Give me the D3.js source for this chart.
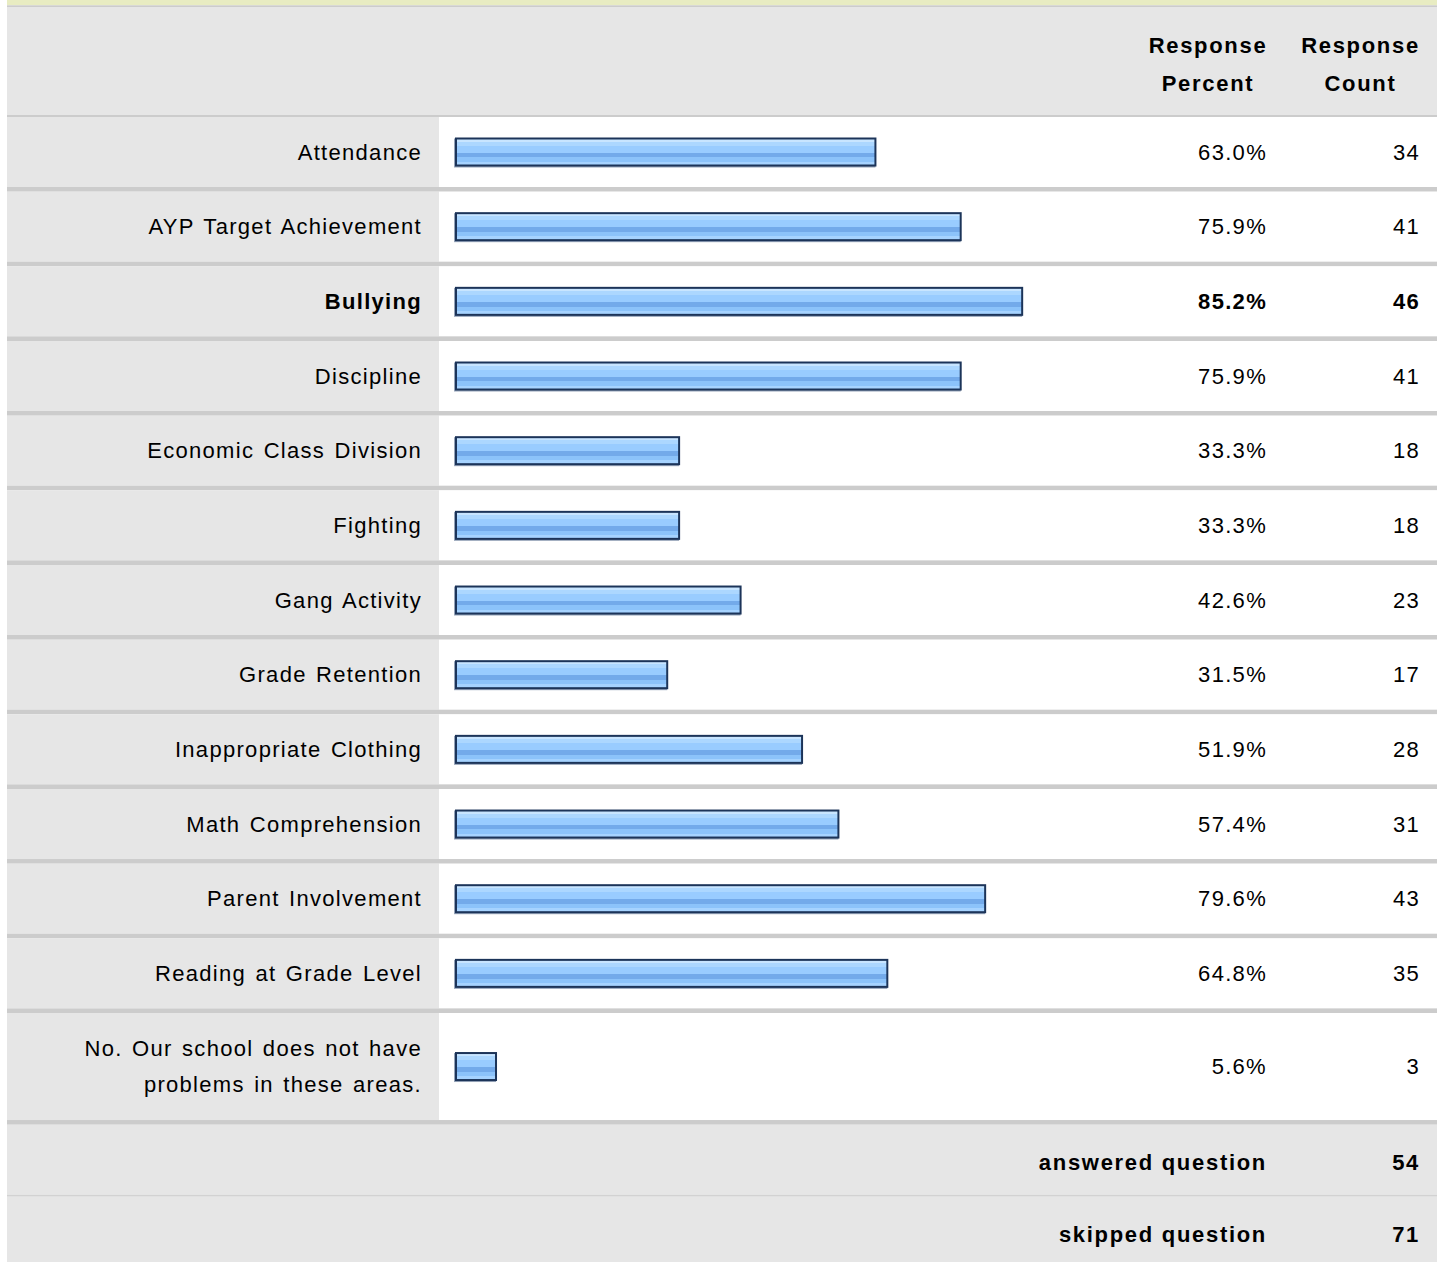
<!DOCTYPE html>
<html>
<head>
<meta charset="utf-8">
<script src="https://cdn.jsdelivr.net/npm/d3@7"></script>
<style>
  html, body { margin: 0; padding: 0; background: #fff; }
  svg { display: block; }
  text { font-family: "Liberation Sans", Arial, Helvetica, sans-serif; fill: #000; }
</style>
</head>
<body>
<script>
// Survey answers: "Which of these areas are problems at your school?"
const categories = [
  "Attendance",
  "AYP Target Achievement",
  "Bullying",
  "Discipline",
  "Economic Class Division",
  "Fighting",
  "Gang Activity",
  "Grade Retention",
  "Inappropriate Clothing",
  "Math Comprehension",
  "Parent Involvement",
  "Reading at Grade Level",
  "No. Our school does not have problems in these areas."
];
const percents = [63.0, 75.9, 85.2, 75.9, 33.3, 33.3, 42.6, 31.5, 51.9, 57.4, 79.6, 64.8, 5.6];
const counts   = [34, 41, 46, 41, 18, 18, 23, 17, 28, 31, 43, 35, 3];
const headers  = [["Response", "Percent"], ["Response", "Count"]];
const summaryLabels = ["answered question", "skipped question"];
const summaryValues = [54, 71];

const W = 1443, H = 1262;
const left = 7, right = 1437;
const labelColRight = 439;      // end of grey label column
const pctColLeft = 1132, cntColLeft = 1284;
const pad = 17;

const GREY = "#e6e6e6", RULE = "#cccccc";
const fontSize = 22;
const lsReg = 1.3, lsBold = 1.7, wsReg = 2;

const rows = categories.map((c, i) => ({
  label: c, pct: percents[i], count: counts[i],
  bold: percents[i] === d3.max(percents)
}));

const svg = d3.select("body").append("svg").attr("width", W).attr("height", H);

// bar fill: banded glossy blue
const defs = svg.append("defs");
const grad = defs.append("linearGradient").attr("id", "barFill")
  .attr("x1", 0).attr("y1", 0).attr("x2", 0).attr("y2", 1);
[
  [0.00, "#c8e5ff"], [0.12, "#c8e5ff"], [0.12, "#acd7ff"], [0.26, "#acd7ff"],
  [0.26, "#99ccff"], [0.52, "#99ccff"], [0.52, "#73aaea"], [0.70, "#73aaea"],
  [0.70, "#8cc3fa"], [0.86, "#8cc3fa"], [0.86, "#a6d3ff"], [1.00, "#a6d3ff"]
].forEach(([o, c]) => grad.append("stop").attr("offset", o).attr("stop-color", c));

// top strip and header block
svg.append("rect").attr("x", left).attr("y", 0).attr("width", right - left).attr("height", 5.3).attr("fill", "#e8ecc2");
svg.append("rect").attr("x", left).attr("y", 5.3).attr("width", right - left).attr("height", 1.7).attr("fill", RULE);
svg.append("rect").attr("x", left).attr("y", 7).attr("width", right - left).attr("height", 108).attr("fill", GREY);
svg.append("rect").attr("x", left).attr("y", 115).attr("width", right - left).attr("height", 2).attr("fill", RULE);

// header titles, centred in their columns
const colCentres = [(pctColLeft + cntColLeft) / 2, (cntColLeft + right) / 2];
headers.forEach((lines, j) => {
  const t = svg.append("text").attr("text-anchor", "middle")
    .attr("font-size", fontSize).attr("font-weight", "bold").attr("letter-spacing", lsBold);
  lines.forEach((ln, k) => t.append("tspan").attr("x", colCentres[j]).attr("y", 45 + k * 38).attr("dy", "0.35em").text(ln));
});

// row layout: measure label wrapping first to size each row
const measure = svg.append("text").attr("font-size", fontSize).attr("letter-spacing", lsReg)
  .attr("word-spacing", wsReg).attr("visibility", "hidden");
function wrap(str, maxW) {
  const words = str.split(" "), lines = [];
  let cur = [];
  words.forEach(w => {
    const trial = cur.concat(w).join(" ");
    measure.text(trial);
    if (cur.length && measure.node().getComputedTextLength() > maxW) { lines.push(cur.join(" ")); cur = [w]; }
    else cur.push(w);
  });
  lines.push(cur.join(" "));
  return lines;
}
rows.forEach(r => { r.lines = wrap(r.label, 395); r.h = r.lines.length > 1 ? 107 : 70; });
measure.remove();

const sep = 4.67;
const tops = [];
let acc = 117;
rows.forEach(r => { tops.push(acc); acc += r.h + sep; });
const rowTop = d3.scaleOrdinal().domain(categories).range(tops);

const x = d3.scaleLinear().domain([0, 100]).range([3, 664]);
const barX = 456, barH = 27;
const fmtPct = d => d3.format(".1f")(d) + "%";

const g = svg.selectAll("g.row").data(rows).join("g").attr("class", "row")
  .attr("transform", d => `translate(0,${rowTop(d.label)})`);

g.append("rect").attr("x", left).attr("y", 0).attr("width", labelColRight - left).attr("height", d => d.h).attr("fill", GREY);
g.append("rect").attr("x", labelColRight).attr("y", 0).attr("width", right - labelColRight).attr("height", d => d.h).attr("fill", "#fff");
g.append("rect").attr("x", left).attr("y", d => d.h).attr("width", right - left).attr("height", sep).attr("fill", RULE);

// labels
g.append("text").attr("text-anchor", "end").attr("font-size", fontSize).attr("letter-spacing", lsReg)
  .attr("word-spacing", wsReg)
  .attr("font-weight", d => d.bold ? "bold" : null)
  .each(function(d) {
    const n = d.lines.length;
    d3.select(this).selectAll("tspan").data(d.lines).join("tspan")
      .attr("x", labelColRight - pad).attr("y", (l, k) => d.h / 2 + (k - (n - 1) / 2) * 36)
      .attr("dy", "0.35em").text(l => l);
  });

// bars
g.append("rect").attr("x", barX - 1).attr("y", d => d.h / 2 - barH / 2 + 1)
  .attr("width", d => x(d.pct)).attr("height", barH).attr("fill", "none")
  .attr("stroke", "#95a3b8").attr("stroke-width", 2);
g.append("rect").attr("x", barX).attr("y", d => d.h / 2 - barH / 2)
  .attr("width", d => x(d.pct)).attr("height", barH)
  .attr("fill", "url(#barFill)").attr("stroke", "#1c3459").attr("stroke-width", 2);

// percent and count columns
g.append("text").attr("text-anchor", "end").attr("font-size", fontSize).attr("letter-spacing", lsReg)
  .attr("font-weight", d => d.bold ? "bold" : null)
  .attr("x", cntColLeft - pad).attr("y", d => d.h / 2).attr("dy", "0.35em").text(d => fmtPct(d.pct));
g.append("text").attr("text-anchor", "end").attr("font-size", fontSize).attr("letter-spacing", lsReg)
  .attr("font-weight", d => d.bold ? "bold" : null)
  .attr("x", right - pad).attr("y", d => d.h / 2).attr("dy", "0.35em").text(d => d.count);

// summary rows
const sumH = [70, 70];
const sumTops = [acc, acc + sumH[0] + 2];
summaryLabels.forEach((lab, i) => {
  const y0 = sumTops[i];
  svg.append("rect").attr("x", left).attr("y", y0).attr("width", right - left).attr("height", sumH[i]).attr("fill", GREY);
  if (i === 0) svg.append("rect").attr("x", left).attr("y", y0 + sumH[i]).attr("width", right - left).attr("height", 2).attr("fill", "#d2d2d2");
  svg.append("text").attr("text-anchor", "end").attr("font-size", fontSize).attr("font-weight", "bold").attr("letter-spacing", lsBold)
    .attr("x", cntColLeft - pad).attr("y", y0 + 38).attr("dy", "0.35em").text(lab);
  svg.append("text").attr("text-anchor", "end").attr("font-size", fontSize).attr("font-weight", "bold").attr("letter-spacing", lsBold)
    .attr("x", right - pad).attr("y", y0 + 38).attr("dy", "0.35em").text(summaryValues[i]);
});
</script>
</body>
</html>
